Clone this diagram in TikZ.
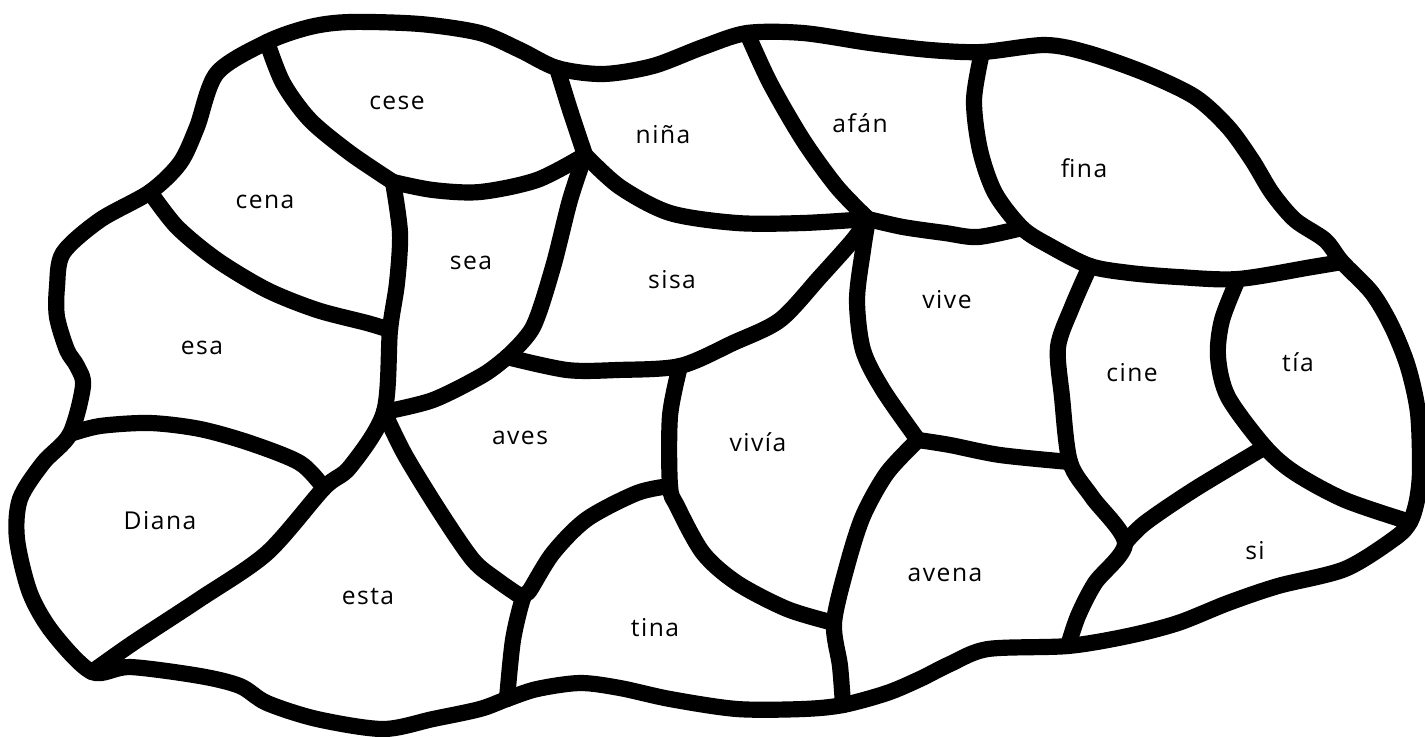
\documentclass[tikz,border=0pt]{standalone}
\usepackage{fontspec}
\setmainfont{Open Sans}[LetterSpace=6]

\begin{document}
\begin{tikzpicture}[
    x=0.01cm, y=-0.01cm,
    every node/.style={font=\fontsize{7}{8}\selectfont},
    wall/.style={line width=4.6pt, line cap=round, line join=round},
]
    \useasboundingbox (0,0) rectangle (1425,736);

    % junctions
    \coordinate (jtl) at (267,42);
    \coordinate (jw) at (150,192);
    \coordinate (jcs) at (393,182);
    \coordinate (jce) at (390,330);
    \coordinate (ja) at (384,412);
    \coordinate (jd) at (324,488);
    \coordinate (jdl) at (70,434);
    \coordinate (jbl) at (92,672);
    \coordinate (jn) at (557,68);
    \coordinate (jnc) at (585,155);
    \coordinate (jss) at (507,357);
    \coordinate (jaf) at (747,33);
    \coordinate (jv) at (868,219);
    \coordinate (jf) at (1022,228);
    \coordinate (jft) at (982,52);
    \coordinate (jvl) at (680,366);
    \coordinate (jt) at (670,486);
    \coordinate (jab) at (523,598);
    \coordinate (jtb) at (507,699);
    \coordinate (jav) at (918,440);
    \coordinate (jvb) at (834,623);
    \coordinate (jab2) at (843,705);
    \coordinate (jc) at (1090,266);
    \coordinate (jcv) at (1070,462);
    \coordinate (jsi) at (1125,543);
    \coordinate (jsb) at (1068,646);
    \coordinate (jtt) at (1238,279);
    \coordinate (jts) at (1265,447);
    \coordinate (jr) at (1342,262);
    \coordinate (jrb) at (1410,522);

    % outline
    \draw[wall] plot[smooth cycle] coordinates {
        (jtl) (310,27) (350,22) (420,24) (480,33) (520,50) (jn) (603,74)
        (653,66) (703,47) (jaf) (803,33) (870,43) (930,50) (jft) (1045,45)
        (1088,53) (1145,73) (1195,97) (1228,127) (1252,160) (1272,193)
        (1295,220) (1325,240) (jr) (1372,293) (1392,327) (1408,367)
        (1418,413) (1420,470) (1417,500) (jrb) (1395,538) (1345,569)
        (1278,586) (1228,603) (1178,623) (1128,636) (jsb) (988,649)
        (950,664) (920,679) (887,693) (jab2) (803,709) (737,709) (670,699)
        (620,688) (580,683) (537,689) (jtb) (480,709) (433,719) (383,729)
        (317,719) (267,703) (240,686) (200,676) (130,667) (jbl) (53,633)
        (30,593) (17,539) (20,499) (43,463) (jdl) (83,386) (77,366)
        (67,350) (57,317) (57,287) (63,253) (100,220) (jw) (180,163)
        (197,127) (217,73)};

    % inner borders
    \draw[wall] plot[smooth] coordinates {(jtl) (283,83) (310,120) (350,153) (jcs)};
    \draw[wall] plot[smooth] coordinates {(jcs) (433,190) (480,192) (537,180) (jnc)};
    \draw[wall] plot[smooth] coordinates {(jn) (570,110) (jnc)};
    \draw[wall] plot[smooth] coordinates {(jnc) (620,187) (670,213) (737,223) (803,223) (jv)};
    \draw[wall] plot[smooth] coordinates {(jaf) (770,83) (803,140) (837,187) (jv)};
    \draw[wall] plot[smooth] coordinates {(jv) (903,227) (945,233) (978,237) (jf)};
    \draw[wall] plot[smooth] coordinates {(jft) (974,100) (980,150) (995,193) (jf)
        (1050,246) (jc) (1130,273) (1178,277) (jtt) (1312,267) (jr)};
    \draw[wall] plot[smooth] coordinates {(jnc) (570,200) (553,267) (533,327) (jss)};
    \draw[wall] plot[smooth] coordinates {(jss) (567,370) (617,370) (jvl) (733,343)
        (780,320) (820,277) (853,240) (jv)};
    \draw[wall] plot[smooth] coordinates {(jcs) (400,233) (397,283) (jce) (ja)
        (350,467) (jd) (267,553) (200,599) (133,643) (jbl)};
    \draw[wall] plot[smooth] coordinates {(jw) (177,227) (217,260) (267,290) (317,310) (367,323) (jce)};
    \draw[wall] plot[smooth] coordinates {(jdl) (100,426) (150,423) (200,429) (250,443) (300,463) (jd)};
    \draw[wall] plot[smooth] coordinates {(ja) (433,400) (483,375) (jss)};
    \draw[wall] plot[smooth] coordinates {(ja) (405,455) (440,512) (473,560) (497,580) (jab)};
    \draw[wall] plot[smooth] coordinates {(jt) (637,493) (587,519) (553,553) (530,590)
        (jab) (513,640) (jtb)};
    \draw[wall] plot[smooth] coordinates {(jvl) (670,416) (jt) (677,506) (703,553)
        (737,583) (787,609) (jvb)};
    \draw[wall] plot[smooth] coordinates {(jav) (887,473) (863,516) (847,566) (jvb) (840,666) (jab2)};
    \draw[wall] plot[smooth] coordinates {(jv) (863,250) (857,300) (863,350) (883,390) (jav)};
    \draw[wall] plot[smooth] coordinates {(jav) (950,445) (1000,455) (jcv)};
    \draw[wall] plot[smooth] coordinates {(jc) (1072,307) (1058,347) (1062,397) (jcv)
        (1092,497) (jsi) (1095,583) (1078,616) (jsb)};
    \draw[wall] plot[smooth] coordinates {(jsi) (1145,523) (1195,489) (jts)};
    \draw[wall] plot[smooth] coordinates {(jtt) (1222,320) (1218,357) (1228,397) (jts)
        (1295,473) (1345,500) (jrb)};

    % words
    \node (cese) at (397,103) {cese};
    \node (cena) at (265,202) {cena};
    \node (esa) at (202,348) {esa};
    \node (nina) at (663,135) {niña};
    \node (afan) at (860,123) {afán};
    \node (fina) at (1084,168) {fina};
    \node (sea) at (471,263) {sea};
    \node (sisa) at (672,280) {sisa};
    \node (vive) at (947,300) {vive};
    \node (cine) at (1132,373) {cine};
    \node (tia) at (1298,362) {tía};
    \node (aves) at (520,438) {aves};
    \node (vivia) at (758,442) {vivía};
    \node (diana) at (160,521) {Diana};
    \node (esta) at (368,596) {esta};
    \node (tina) at (655,628) {tina};
    \node (avena) at (945,575) {avena};
    \node (si) at (1255,551) {si};
\end{tikzpicture}
\end{document}
